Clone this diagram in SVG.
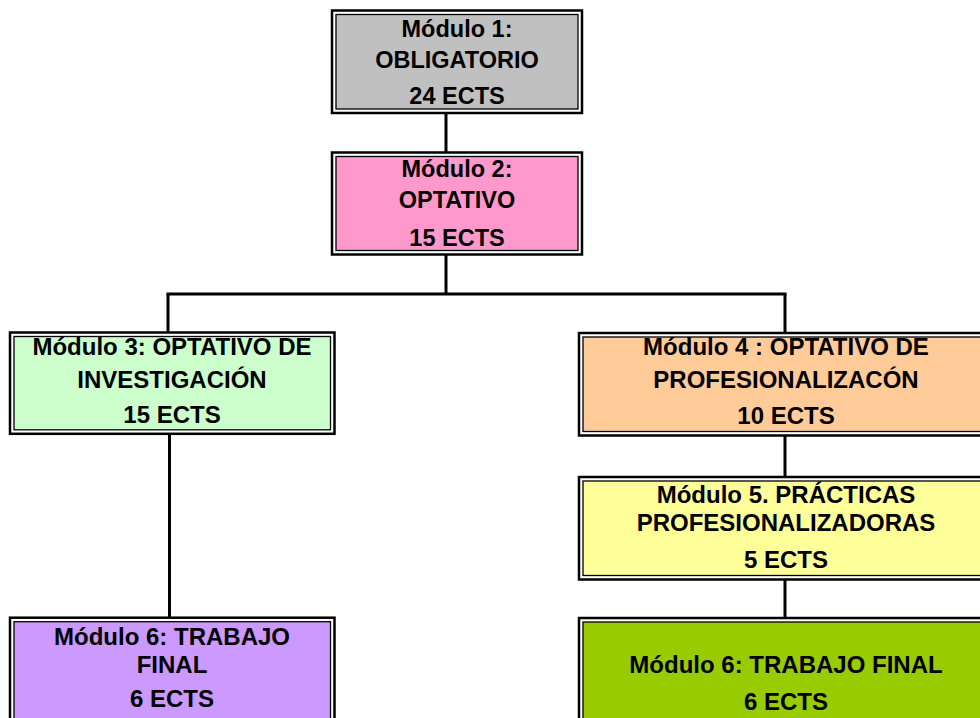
<svg xmlns="http://www.w3.org/2000/svg" width="980" height="718" viewBox="0 0 980 718">
<style>
.outer{fill:#ffffff;stroke:#000;stroke-width:2.5}
.inner{stroke:#000;stroke-width:1.3}
.t{font-family:"Liberation Sans",Arial,sans-serif;font-weight:bold;font-size:24px;fill:#000;text-anchor:middle}
.s{font-size:23.5px}
.c{stroke:#000;stroke-width:3;fill:none}
</style>
<rect width="980" height="718" fill="#fff"/>
<g id="connectors">
<line class="c" x1="446" y1="113" x2="446" y2="153"/>
<line class="c" x1="446" y1="255" x2="446" y2="294"/>
<line class="c" x1="166.5" y1="294" x2="786.5" y2="294"/>
<line class="c" x1="168" y1="294" x2="168" y2="333"/>
<line class="c" x1="785" y1="294" x2="785" y2="333"/>
<line class="c" x1="169.5" y1="434" x2="169.5" y2="618"/>
<line class="c" x1="785" y1="435" x2="785" y2="477"/>
<line class="c" x1="785" y1="580" x2="785" y2="618"/>
</g>
<g id="m1">
<rect class="outer" x="332" y="10.5" width="250" height="102.5"/>
<rect class="inner" x="336" y="14.5" width="242" height="94.5" fill="#C0C0C0"/>
<text class="t s" x="457" y="37">Módulo 1:</text>
<text class="t s" x="457" y="68">OBLIGATORIO</text>
<text class="t s" x="457" y="104">24 ECTS</text>
</g>
<g id="m2">
<rect class="outer" x="332" y="152.5" width="250" height="102"/>
<rect class="inner" x="336" y="156.5" width="242" height="94" fill="#FF99CC"/>
<text class="t s" x="457" y="177">Módulo 2:</text>
<text class="t s" x="457" y="208">OPTATIVO</text>
<text class="t s" x="457" y="246">15 ECTS</text>
</g>
<g id="m3">
<rect class="outer" x="10" y="332.5" width="324.5" height="101.3"/>
<rect class="inner" x="14" y="336.5" width="316.5" height="93.3" fill="#CCFFCC"/>
<text class="t" x="172" y="355">Módulo 3: OPTATIVO DE</text>
<text class="t" x="172" y="388">INVESTIGACIÓN</text>
<text class="t" x="172" y="423">15 ECTS</text>
</g>
<g id="m4">
<rect class="outer" x="579" y="333" width="415" height="102.5"/>
<rect class="inner" x="583" y="337" width="407" height="94.5" fill="#FFCC99"/>
<text class="t" x="786" y="355">Módulo 4 : OPTATIVO DE</text>
<text class="t" x="786" y="388">PROFESIONALIZACÓN</text>
<text class="t" x="786" y="424">10 ECTS</text>
</g>
<g id="m5">
<rect class="outer" x="579" y="477" width="415" height="102.5"/>
<rect class="inner" x="583" y="481" width="407" height="94.5" fill="#FFFF99"/>
<text class="t" x="786" y="503">Módulo 5. PRÁCTICAS</text>
<text class="t" x="786" y="531">PROFESIONALIZADORAS</text>
<text class="t" x="786" y="568">5 ECTS</text>
</g>
<g id="m6a">
<rect class="outer" x="10" y="617.7" width="324.5" height="110"/>
<rect class="inner" x="14" y="621.7" width="316.5" height="102" fill="#CC99FF"/>
<text class="t" x="172" y="645">Módulo 6: TRABAJO</text>
<text class="t" x="172" y="673">FINAL</text>
<text class="t" x="172" y="707">6 ECTS</text>
</g>
<g id="m6b">
<rect class="outer" x="579" y="618" width="415" height="110"/>
<rect class="inner" x="583" y="622" width="407" height="102" fill="#99CC00"/>
<text class="t" x="786" y="673">Módulo 6: TRABAJO FINAL</text>
<text class="t" x="786" y="710">6 ECTS</text>
</g>
</svg>
